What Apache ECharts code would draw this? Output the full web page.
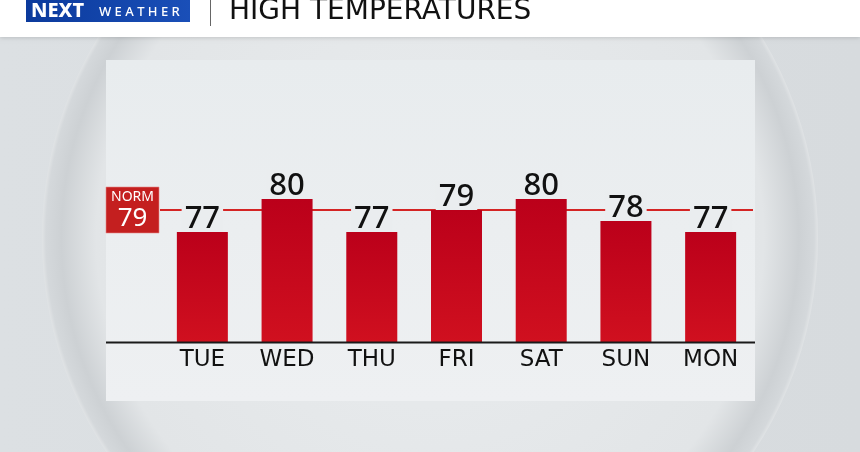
<!DOCTYPE html>
<html><head><meta charset="utf-8">
<script src="https://cdn.jsdelivr.net/npm/echarts@6/dist/echarts.min.js"></script>
<style>html,body{margin:0;padding:0;background:#dde1e4}#c{width:860px;height:452px}</style>
</head><body><div id="c"></div>
<script>
const days = ['TUE','WED','THU','FRI','SAT','SUN','MON'];
const highs = [77, 80, 77, 79, 80, 78, 77];
const normal = 79;
const title = 'HIGH TEMPERATURES';

const chart = echarts.init(document.getElementById('c'));
const FONT = '"Noto Sans", "Open Sans", sans-serif';
const WIDE = '"DejaVu Sans", "Noto Sans", sans-serif';
const baseGraphic = [
  {type: 'rect', z: -30, shape: {x: 0, y: 0, width: 860, height: 452},
   style: {fill: new echarts.graphic.LinearGradient(0, 0, 1, 0, [{offset: 0, color: '#dce0e3'}, {offset: 1, color: '#d7dbde'}])}},
  {type: 'circle', z: -29, shape: {cx: 430, cy: 238, r: 388},
   style: {fill: new echarts.graphic.RadialGradient(0.5, 0.5, 0.5, [
     {offset: 0, color: '#eaedef'}, {offset: 0.86, color: '#e2e5e7'}, {offset: 0.95, color: '#cdd1d4'}, {offset: 0.99, color: '#d4d8db'}, {offset: 1, color: '#e0e3e5'}])}},
  {type: 'rect', z: -28, shape: {x: 106, y: 60, width: 649, height: 341},
   style: {fill: new echarts.graphic.LinearGradient(0, 0, 0, 1, [{offset: 0, color: '#e8ecee'}, {offset: 1, color: '#eef0f2'}])}},
  {type: 'line', z: 5, shape: {x1: 106, y1: 342.5, x2: 755, y2: 342.5}, style: {stroke: '#1a1a1a', lineWidth: 2}},
  {type: 'rect', z: 50, shape: {x: 0, y: 0, width: 860, height: 37}, style: {fill: '#ffffff', shadowColor: 'rgba(0,0,0,0.15)', shadowBlur: 4, shadowOffsetY: 1}},
  {type: 'rect', z: 51, shape: {x: 26, y: 0, width: 164, height: 22},
   style: {fill: new echarts.graphic.LinearGradient(0, 0, 1, 0, [{offset: 0, color: '#0b3a9c'}, {offset: 1, color: '#1a4fb8'}])}},
  {type: 'text', z: 52, x: 31, y: 11, style: {text: 'NEXT', fill: '#fff', font: '800 20px ' + FONT, textVerticalAlign: 'middle'}},
  {type: 'text', z: 52, x: 99, y: 12, style: {text: 'W E A T H E R', fill: '#fff', font: '500 13px ' + FONT, textVerticalAlign: 'middle'}},
  {type: 'line', z: 52, shape: {x1: 210.5, y1: 0, x2: 210.5, y2: 26}, style: {stroke: '#666', lineWidth: 1}},
  {type: 'text', z: 52, x: 229, y: 12, style: {text: title, fill: '#111', font: '500 28px ' + WIDE, textVerticalAlign: 'middle'}}
];
chart.setOption({
  animation: false,
  backgroundColor: '#dde1e4',
  grid: {left: 160, right: 107, top: 56, bottom: 110},
  xAxis: {
    type: 'category', data: days,
    axisLine: {show: false},
    axisTick: {show: false},
    axisLabel: {color: '#111', fontSize: 23, fontFamily: WIDE, margin: 7}
  },
  yAxis: {type: 'value', min: 67, max: 93, show: false, splitLine: {show: false}},
  graphic: baseGraphic,
  series: [{
    type: 'bar', data: highs, barWidth: 51, z: 3,
    itemStyle: {color: new echarts.graphic.LinearGradient(0, 0, 0, 1, [{offset: 0, color: '#bb001a'}, {offset: 1, color: '#d0101f'}])},
    label: {show: true, position: 'top', distance: 0, color: '#111', fontSize: 31, fontFamily: FONT, fontWeight: 500,
            backgroundColor: '#eaedef', padding: [0, 3, -3, 3], lineHeight: 32},
    markLine: {
      symbol: 'none', silent: true, z: 2,
      lineStyle: {color: '#d42424', width: 2, type: 'solid'},
      data: [{yAxis: normal}],
      label: {show: false}
    }
  }]
});
const ny = chart.convertToPixel({yAxisIndex: 0}, normal);
chart.setOption({graphic: baseGraphic.concat([
  {type: 'rect', z: 10, shape: {x: 106, y: ny - 23, width: 53, height: 46},
   style: {fill: '#c41f1f', stroke: '#e58a8a', lineWidth: 0.6}},
  {type: 'text', z: 11, x: 132.5, y: ny - 13, style: {text: 'NORM', fill: '#fff', font: '14px ' + FONT, textAlign: 'center', textVerticalAlign: 'middle'}},
  {type: 'text', z: 11, x: 132.5, y: ny + 9, style: {text: String(normal), fill: '#fff', font: '26px ' + FONT, textAlign: 'center', textVerticalAlign: 'middle'}}
])});
</script></body></html>
